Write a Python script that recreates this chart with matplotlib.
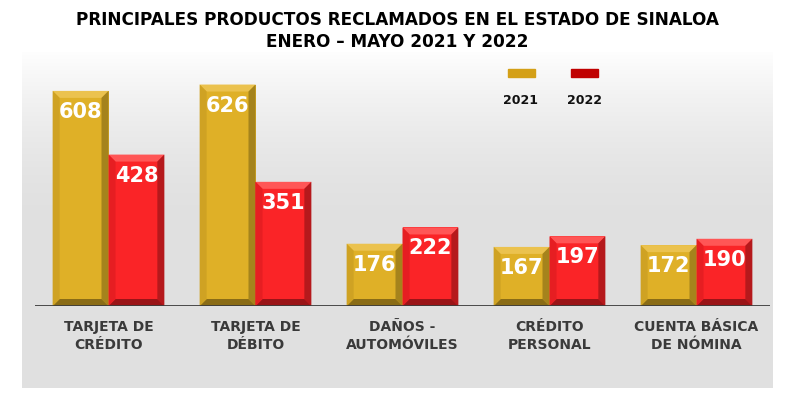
import numpy as np
import matplotlib.pyplot as plt
from matplotlib.patches import Polygon, Rectangle

categorias = ['TARJETA DE\nCRÉDITO', 'TARJETA DE\nDÉBITO', 'DAÑOS -\nAUTOMÓVILES',
              'CRÉDITO\nPERSONAL', 'CUENTA BÁSICA\nDE NÓMINA']
v2021 = [608, 626, 176, 167, 172]
v2022 = [428, 351, 222, 197, 190]
anios = ['2021', '2022']

plt.rcParams['font.family'] = ['DejaVu Sans']

W, H = 786, 399
fig = plt.figure(figsize=(W / 100, H / 100), dpi=100)

# fondo gris con degradado
bg = fig.add_axes([22 / W, (H - 388) / H, (773 - 22) / W, (388 - 52) / H], zorder=0)
t = np.linspace(0, 1, 256)
g = 0.88 + 0.115 * np.clip(1 - t / 0.5, 0, 1) ** 1.6
img = np.repeat(g[:, None], 2, axis=1)
bg.imshow(np.dstack([img, img, img]), aspect='auto', extent=[0, 1, 0, 1], origin='upper')
bg.axis('off')

ax = fig.add_axes([35 / W, (H - 306) / H, (770 - 35) / W, (306 - 52) / H], zorder=1)
ax.patch.set_alpha(0)
ax.set_xlim(-0.5, 4.5)
ax.set_ylim(0, 718)

x = np.arange(len(categorias))
w = 0.38

estilos = [
    dict(face='#DFB027', top='#EBC24E', left='#CFA223', right='#A5831C', bottom='#8A6C16'),
    dict(face='#FA2427', top='#FF5656', left='#E61E22', right='#B5191C', bottom='#9A1417'),
]

dx = 7 / 147.0
dy = 7 * 718 / 254.0

for serie, vals, st in [(0, v2021, estilos[0]), (1, v2022, estilos[1])]:
    xs = x - w / 2 if serie == 0 else x + w / 2
    bars = ax.bar(xs, vals, width=w, color=st['face'], zorder=2)
    for b, v in zip(bars, vals):
        x0, x1 = b.get_x(), b.get_x() + b.get_width()
        y0, y1 = 0, b.get_height()
        polys = [
            ([(x0, y1), (x1, y1), (x1 - dx, y1 - dy), (x0 + dx, y1 - dy)], st['top']),
            ([(x1, y1), (x1, y0), (x1 - dx, y0 + dy), (x1 - dx, y1 - dy)], st['right']),
            ([(x0, y0), (x1, y0), (x1 - dx, y0 + dy), (x0 + dx, y0 + dy)], st['bottom']),
            ([(x0, y0), (x0, y1), (x0 + dx, y1 - dy), (x0 + dx, y0 + dy)], st['left']),
        ]
        for pts, c in polys:
            ax.add_patch(Polygon(pts, closed=True, color=c, lw=0, zorder=3))
        ax.text((x0 + x1) / 2, y1 - 21 * 718 / 254.0, str(v), ha='center', va='center',
                color='white', fontsize=15, fontweight='bold', zorder=4)

ax.axhline(0, color='#3c3c3c', lw=2, zorder=5)
for s in ax.spines.values():
    s.set_visible(False)
ax.set_yticks([])
ax.set_xticks(x)
ax.set_xticklabels(categorias, fontsize=10, fontweight='bold', color='#3a3a3a',
                   linespacing=1.35)
ax.tick_params(axis='x', length=0, pad=10)

# leyenda
fig.patches.append(Rectangle((508 / W, (H - 77) / H), 27 / W, 8 / H,
                             transform=fig.transFigure, color='#D4A017', zorder=3))
fig.patches.append(Rectangle((571 / W, (H - 77) / H), 27 / W, 8 / H,
                             transform=fig.transFigure, color='#C00000', zorder=3))
fig.text(521 / W, 1 - 101 / H, anios[0], ha='center', va='center', fontsize=9,
         fontweight='bold', color='#111111')
fig.text(584 / W, 1 - 101 / H, anios[1], ha='center', va='center', fontsize=9,
         fontweight='bold', color='#111111')

fig.text(397 / W, 1 - 20 / H, 'PRINCIPALES PRODUCTOS RECLAMADOS EN EL ESTADO DE SINALOA',
         ha='center', va='center', fontsize=12.2, fontweight='bold', color='#000000')
fig.text(397 / W, 1 - 42 / H, 'ENERO – MAYO 2021 Y 2022',
         ha='center', va='center', fontsize=12.2, fontweight='bold', color='#000000')

fig.savefig('out.png', dpi=100, facecolor='white')
